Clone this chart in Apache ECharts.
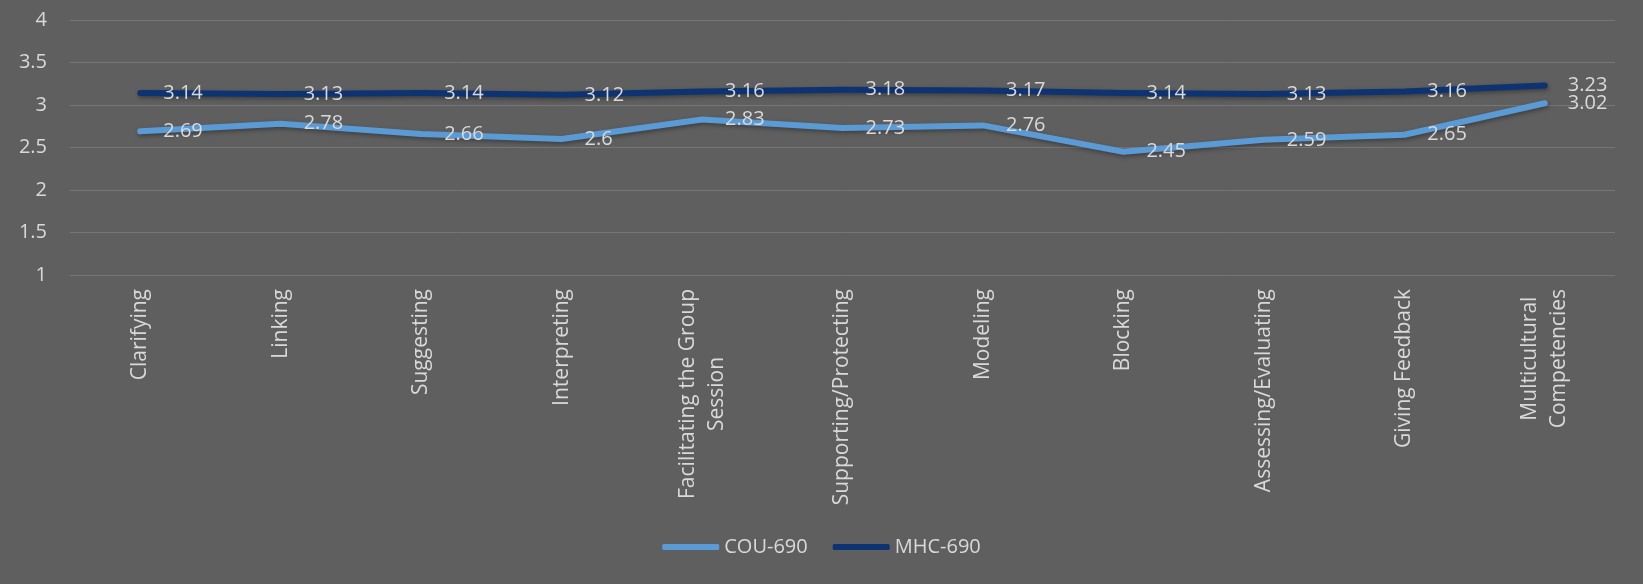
<!DOCTYPE html>
<html>
<head>
<meta charset="utf-8">
<script src="https://cdn.jsdelivr.net/npm/echarts@6/dist/echarts.min.js"></script>
<style>
  html, body { margin: 0; padding: 0; background: #5f5f5f; }
  #chart { width: 1643px; height: 584px; }
</style>
</head>
<body>
<div id="chart"></div>
<script>
var categories = ['Clarifying', 'Linking', 'Suggesting', 'Interpreting', 'Facilitating the Group\nSession',
                  'Supporting/Protecting', 'Modeling', 'Blocking', 'Assessing/Evaluating', 'Giving Feedback',
                  'Multicultural\nCompetencies'];
var cou690 = [2.69, 2.78, 2.66, 2.6, 2.83, 2.73, 2.76, 2.45, 2.59, 2.65, 3.02];
var mhc690 = [3.14, 3.13, 3.14, 3.12, 3.16, 3.18, 3.17, 3.14, 3.13, 3.16, 3.23];

var textColor = '#d9d9d9';
var font = '"Open Sans", "Liberation Sans", sans-serif';
var fs = 20;

var chart = echarts.init(document.getElementById('chart'));

function lineSeries(name, data, color) {
  return {
    name: name,
    type: 'line',
    data: data,
    showSymbol: true,
    symbol: 'circle',
    symbolSize: 0,
    smooth: false,
    lineStyle: {
      width: 6,
      color: color,
      cap: 'round',
      join: 'round',
      shadowColor: 'rgba(0,0,0,0.35)',
      shadowBlur: 4,
      shadowOffsetX: 1,
      shadowOffsetY: 2
    },
    itemStyle: { color: color },
    label: {
      show: true,
      position: 'right',
      distance: 23,
      offset: [0, 2],
      color: textColor,
      fontFamily: font,
      fontSize: fs
    },
    labelLayout: { hideOverlap: false },
    animation: false
  };
}

var option = {
  backgroundColor: '#5f5f5f',
  animation: false,
  grid: { left: 70, right: 28, top: 20, bottom: 309, containLabel: false },
  legend: {
    bottom: 22,
    left: 'center',
    itemWidth: 57,
    itemHeight: 6,
    itemGap: 25,
    icon: 'roundRect',
    textStyle: { color: textColor, fontFamily: font, fontSize: fs },
    data: ['COU-690', 'MHC-690']
  },
  xAxis: {
    type: 'category',
    data: categories,
    boundaryGap: true,
    axisLine: { show: false },
    axisTick: { show: false },
    axisLabel: {
      rotate: 90,
      margin: 14,
      interval: 0,
      color: textColor,
      fontFamily: font,
      fontSize: 21,
      formatter: function (v) {
        return v.split('\n').map(function (s) { return '{c|' + s + '}'; }).join('\n');
      },
      rich: {
        c: { align: 'center', color: textColor, fontFamily: font, fontSize: 21, lineHeight: 29 }
      }
    }
  },
  yAxis: {
    type: 'value',
    min: 1,
    max: 4,
    interval: 0.5,
    axisLine: { show: false },
    axisTick: { show: false },
    axisLabel: { color: textColor, fontFamily: font, fontSize: fs, margin: 23 },
    splitLine: { lineStyle: { color: '#767676', width: 1 } }
  },
  series: [
    lineSeries('COU-690', cou690, '#5b9bd5'),
    lineSeries('MHC-690', mhc690, '#0d3372')
  ]
};

chart.setOption(option);
</script>
</body>
</html>
